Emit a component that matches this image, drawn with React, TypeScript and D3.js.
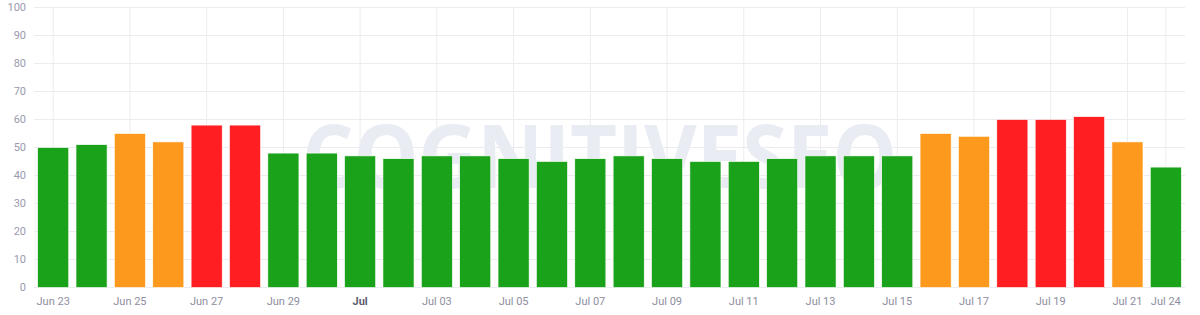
import React from "react";
import * as d3 from "d3";

const categories: string[] = [
  "Jun 23", "Jun 24", "Jun 25", "Jun 26", "Jun 27", "Jun 28", "Jun 29", "Jun 30",
  "Jul 01", "Jul 02", "Jul 03", "Jul 04", "Jul 05", "Jul 06", "Jul 07", "Jul 08",
  "Jul 09", "Jul 10", "Jul 11", "Jul 12", "Jul 13", "Jul 14", "Jul 15", "Jul 16",
  "Jul 17", "Jul 18", "Jul 19", "Jul 20", "Jul 21", "Jul 24",
];

const values: number[] = [
  50, 51, 55, 52, 58, 58, 48, 48, 47, 46, 47, 47, 46, 45, 46, 47,
  46, 45, 45, 46, 47, 47, 47, 55, 54, 60, 60, 61, 52, 43,
];

// Visible tick labels: category -> label text
const tickCategories: string[] = [
  "Jun 23", "Jun 25", "Jun 27", "Jun 29", "Jul 01", "Jul 03", "Jul 05", "Jul 07",
  "Jul 09", "Jul 11", "Jul 13", "Jul 15", "Jul 17", "Jul 19", "Jul 21", "Jul 24",
];
const tickLabels: string[] = [
  "Jun 23", "Jun 25", "Jun 27", "Jun 29", "Jul", "Jul 03", "Jul 05", "Jul 07",
  "Jul 09", "Jul 11", "Jul 13", "Jul 15", "Jul 17", "Jul 19", "Jul 21", "Jul 24",
];
const boldTicks: string[] = ["Jul"];

const yTicks: number[] = [0, 10, 20, 30, 40, 50, 60, 70, 80, 90, 100];

const GREEN = "#1ba21b";
const ORANGE = "#fd9a1e";
const RED = "#ff1f23";

function colorFor(v: number): string {
  if (v >= 58) return RED;
  if (v >= 52) return ORANGE;
  return GREEN;
}

export default function App() {
  const W = 1200;
  const H = 315;
  const left = 34;
  const right = 1185;
  const top = 7.5;
  const bottom = 287.5;

  const x = d3
    .scaleBand<string>()
    .domain(categories)
    .range([left, right])
    .paddingInner(0.19)
    .paddingOuter(0.095);
  const y = d3.scaleLinear().domain([0, 100]).range([bottom, top]);

  const font = "Roboto, 'Noto Sans', sans-serif";

  return (
    <svg
      width={W}
      height={H}
      style={{ position: "absolute", left: 0, top: 0, display: "block" }}
    >
      <rect width={W} height={H} fill="#ffffff" />
      {/* horizontal grid */}
      {yTicks.map((t) => (
        <line
          key={"h" + t}
          x1={left}
          x2={right}
          y1={y(t)}
          y2={y(t)}
          stroke="#ececf0"
          strokeWidth={1}
        />
      ))}
      {/* vertical grid */}
      {tickCategories.map((c) => {
        const cx = (x(c) ?? 0) + x.bandwidth() / 2;
        return (
          <line
            key={"v" + c}
            x1={cx}
            x2={cx}
            y1={top}
            y2={bottom}
            stroke="#ececf0"
            strokeWidth={1}
          />
        );
      })}
      {/* watermark */}
      <text
        x={302}
        y={188}
        fontFamily="'Open Sans', Lato, sans-serif"
        fontWeight={700}
        fontSize={88}
        fill="#eaecf3"
        textLength={595}
        lengthAdjust="spacingAndGlyphs"
      >
        COGNITIVESEO
      </text>
      {/* bars */}
      {categories.map((c, i) => (
        <rect
          key={c}
          x={x(c)}
          y={y(values[i])}
          width={x.bandwidth()}
          height={y(0) - y(values[i])}
          fill={colorFor(values[i])}
          stroke="#ffffff"
          strokeWidth={0.6}
        />
      ))}
      {/* y labels */}
      {yTicks.map((t) => (
        <text
          key={"yl" + t}
          x={26}
          y={y(t)}
          dy="0.35em"
          textAnchor="end"
          fontFamily={font}
          fontSize={11}
          fill="#9a9aae"
        >
          {t}
        </text>
      ))}
      {/* x labels */}
      {tickCategories.map((c, i) => {
        const cx = (x(c) ?? 0) + x.bandwidth() / 2;
        const bold = boldTicks.includes(tickLabels[i]);
        return (
          <text
            key={"xl" + c}
            x={cx}
            y={305}
            textAnchor="middle"
            fontFamily={font}
            fontSize={11}
            fontWeight={bold ? 700 : 400}
            fill={bold ? "#5d5d70" : "#8e8ea0"}
          >
            {tickLabels[i]}
          </text>
        );
      })}
    </svg>
  );
}
